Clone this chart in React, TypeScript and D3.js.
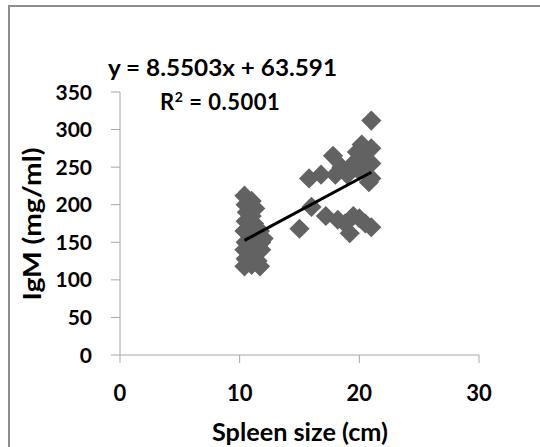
import React from 'react';
import * as d3 from 'd3';

// spleen size (cm) vs IgM (mg/ml)
const spleenSize = [
  10.4, 10.5, 10.6, 10.5, 10.4, 10.5, 10.4, 10.5, 10.4, 11.0, 11.0, 11.2, 11.0, 11.0, 11.2, 11.0,
  11.7, 11.8, 11.8, 11.5, 11.7, 12.0, 11.3,
  15.0, 15.8, 16.0, 16.8, 17.2, 17.8, 18.0, 18.2, 18.5, 18.8, 19.0, 19.2, 19.5, 19.5, 19.8, 20.0,
  20.2, 20.0, 20.5, 20.8, 21.0, 21.0, 21.0, 21.0, 21.0, 20.5,
];
const igm = [
  212, 200, 190, 178, 165, 150, 140, 128, 118, 205, 185, 175, 160, 145, 132, 120,
  165, 150, 140, 125, 118, 155, 195,
  168, 235, 197, 240, 185, 265, 240, 180, 250, 175, 240, 162, 255, 185, 270, 245,
  280, 182, 260, 230, 312, 275, 255, 235, 170, 175,
];
const xTicks = [0, 10, 20, 30];
const yTicks = [0, 50, 100, 150, 200, 250, 300, 350];
const slope = 8.5503;
const intercept = 63.591;
const equationLabel = 'y = 8.5503x + 63.591';
const r2Label = '0.5001';

const W = 540;
const H = 447;
const font = 'Lato, "Open Sans", sans-serif';

export default function App() {
  const x = d3.scaleLinear().domain([0, 30]).range([120, 479]);
  const y = d3.scaleLinear().domain([0, 350]).range([355, 92]);
  const pts = spleenSize.map((s, i) => ({ s, v: igm[i] }));
  const diamond = d3.symbol().type(d3.symbolDiamond2).size(260)();
  const [x0, x1] = d3.extent(spleenSize) as [number, number];
  const line = d3.line<number>().x(d => x(d)).y(d => y(slope * d + intercept));
  const axisColor = '#a6a6a6';

  return (
    <svg width={W} height={H} style={{ position: 'absolute', left: 0, top: 0, background: '#fff' }}>
      <rect x={9} y={6} width={W + 10} height={H + 10} fill="#fff" stroke="#8c8c8c" strokeWidth={2} />

      {/* axes */}
      <line x1={x(0)} x2={x(30)} y1={y(0)} y2={y(0)} stroke={axisColor} />
      <line x1={x(0)} x2={x(0)} y1={y(0)} y2={y(350)} stroke={axisColor} />
      {yTicks.map(t => (
        <g key={'y' + t}>
          <line x1={x(0) - 9} x2={x(0)} y1={y(t)} y2={y(t)} stroke={axisColor} />
          <text x={92} y={y(t)} dy="0.36em" textAnchor="end" fontFamily={font} fontWeight="bold" fontSize={21} fill="#000">{t}</text>
        </g>
      ))}
      {xTicks.map(t => (
        <g key={'x' + t}>
          <line x1={x(t)} x2={x(t)} y1={y(0)} y2={y(0) + 8} stroke={axisColor} />
          <text x={x(t)} y={401} textAnchor="middle" fontFamily={font} fontWeight="bold" fontSize={22} fill="#000">{t}</text>
        </g>
      ))}

      {/* points */}
      {pts.map((p, i) => (
        <path key={i} d={diamond} transform={`translate(${x(p.s)},${y(p.v)})`} fill="#626262" />
      ))}

      {/* trendline */}
      <path d={line([x0, x1]) || ''} fill="none" stroke="#000" strokeWidth={3} />

      <text x={108} y={76} textLength={229} lengthAdjust="spacingAndGlyphs" fontFamily={font} fontWeight="bold" fontSize={22} fill="#000">{equationLabel}</text>
      <text x={160} y={110} fontFamily={font} fontWeight="bold" fontSize={22} fill="#000" letterSpacing={0.5}>
        R<tspan fontSize={14} dy={-8}>2</tspan><tspan dy={8}>{' = ' + r2Label}</tspan>
      </text>

      <text transform="translate(41,224) rotate(-90)" textAnchor="middle" textLength={153} lengthAdjust="spacingAndGlyphs" fontFamily={font} fontWeight="bold" fontSize={24} fill="#000">IgM (mg/ml)</text>
      <text x={300} y={441} textAnchor="middle" textLength={176} lengthAdjust="spacingAndGlyphs" fontFamily={font} fontWeight="bold" fontSize={24} fill="#000">Spleen size (cm)</text>
    </svg>
  );
}
